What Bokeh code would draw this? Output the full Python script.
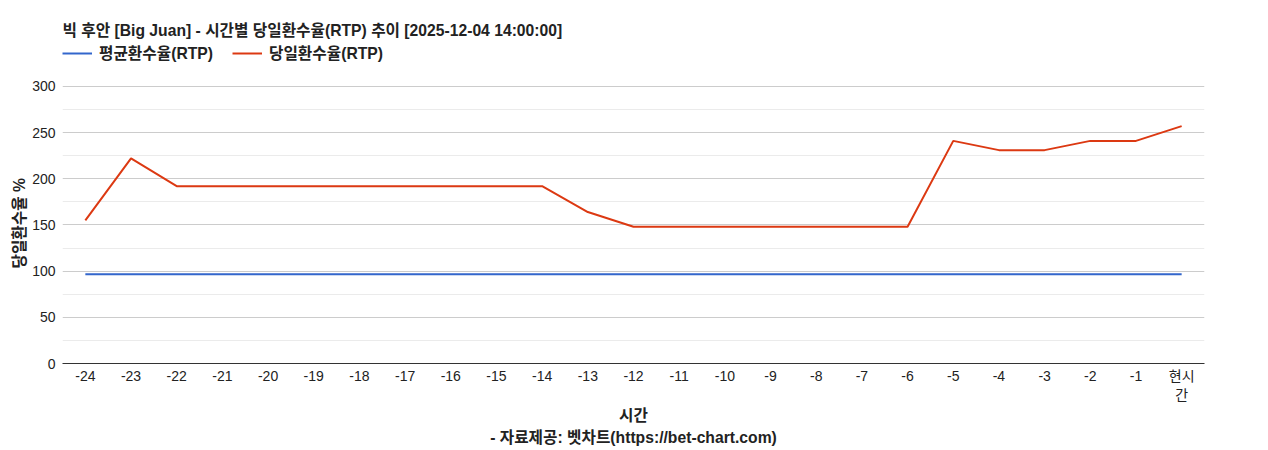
from bokeh.plotting import figure
from bokeh.models import (Range1d, FixedTicker, Legend, LegendItem, Title,
                          ColumnDataSource, Label)
from bokeh.embed import file_html
from bokeh.resources import INLINE

# ---- data ----
hours = ["-24", "-23", "-22", "-21", "-20", "-19", "-18", "-17", "-16", "-15", "-14", "-13",
         "-12", "-11", "-10", "-9", "-8", "-7", "-6", "-5", "-4", "-3", "-2", "-1", "현시\n간"]
avg_rtp = [96.5] * 25
daily_rtp = [155, 222, 192, 192, 192, 192, 192, 192, 192, 192, 192, 164,
             148, 148, 148, 148, 148, 148, 148, 241, 231, 231, 241, 241, 257]
y_ticks = [0, 50, 100, 150, 200, 250, 300]
y_minor = [25, 75, 125, 175, 225, 275]

title_text = "빅 후안 [Big Juan] - 시간별 당일환수율(RTP) 추이 [2025-12-04 14:00:00]"
credit_text = "- 자료제공: 벳차트(https://bet-chart.com)"
y_label = "당일환수율 %"
x_label = "시간"

FONT = "'Liberation Sans', 'Noto Sans CJK KR'"
TXT = "#222222"
BOLD_SIZE = "15.7px"

# frame spans from page y ~12 to 363; values 0..300 occupy the lower 277 px
Y_TOP = 380
xs = list(range(len(hours)))
src = ColumnDataSource(dict(x=xs, avg=avg_rtp, daily=daily_rtp))

p = figure(width=1252, height=448, x_range=Range1d(-0.5, len(hours) - 0.5), y_range=Range1d(0, Y_TOP),
           output_backend="svg", toolbar_location=None,
           min_border_left=62, min_border_right=48, min_border_top=12, min_border_bottom=85)
p.outline_line_color = None
p.background_fill_color = "white"
p.border_fill_color = "white"

r_avg = p.line("x", "avg", source=src, line_color="#3366cc", line_width=2)
r_day = p.line("x", "daily", source=src, line_color="#dc3912", line_width=2)

# title as a label above the data area
p.add_layout(Label(x=0, y=333, x_units="screen", y_units="screen", text=title_text,
                   text_font=FONT, text_font_size=BOLD_SIZE, text_font_style="bold",
                   text_color=TXT, text_baseline="middle", text_align="left"))

legend = Legend(items=[LegendItem(label="평균환수율(RTP)", renderers=[r_avg]),
                       LegendItem(label="당일환수율(RTP)", renderers=[r_day])],
                orientation="horizontal", location=(0, 299),
                label_text_font=FONT, label_text_font_size=BOLD_SIZE, label_text_font_style="bold",
                label_text_color=TXT, glyph_width=30, glyph_height=16, spacing=19,
                padding=0, margin=0, border_line_color=None, background_fill_alpha=0,
                label_standoff=7)
p.add_layout(legend, "center")

# y axis
p.yaxis.ticker = FixedTicker(ticks=y_ticks, minor_ticks=y_minor)
p.yaxis.axis_line_color = None
p.yaxis.major_tick_line_color = None
p.yaxis.minor_tick_line_color = None
p.yaxis.major_tick_out = 0
p.yaxis.major_label_standoff = 3
p.yaxis.major_label_text_font = FONT
p.yaxis.major_label_text_font_size = "14px"
p.yaxis.major_label_text_color = TXT
p.ygrid.grid_line_color = "#cccccc"
p.ygrid.minor_grid_line_color = "#ebebeb"

p.add_layout(Title(text=y_label, align="left", offset=95, text_font=FONT, text_font_size=BOLD_SIZE,
                   text_font_style="bold", text_color=TXT, standoff=4), "left")

# x axis
p.xaxis.ticker = FixedTicker(ticks=xs)
p.xaxis.major_label_overrides = {i: h for i, h in enumerate(hours)}
p.xaxis.axis_line_color = "#333333"
p.xaxis.major_tick_line_color = None
p.xaxis.minor_tick_line_color = None
p.xaxis.major_tick_out = 0
p.xaxis.major_label_standoff = 4
p.xaxis.major_label_text_font = FONT
p.xaxis.major_label_text_font_size = "14px"
p.xaxis.major_label_text_color = TXT
p.xaxis.axis_label = x_label
p.xaxis.axis_label_standoff = 1
p.xaxis.axis_label_text_font = FONT
p.xaxis.axis_label_text_font_size = BOLD_SIZE
p.xaxis.axis_label_text_font_style = "bold"
p.xaxis.axis_label_text_color = TXT
p.xgrid.grid_line_color = None

p.add_layout(Title(text=credit_text, align="center", text_font=FONT, text_font_size=BOLD_SIZE,
                   text_font_style="bold", text_color=TXT, standoff=0), "below")

open("out.html", "w").write(file_html(p, INLINE))
